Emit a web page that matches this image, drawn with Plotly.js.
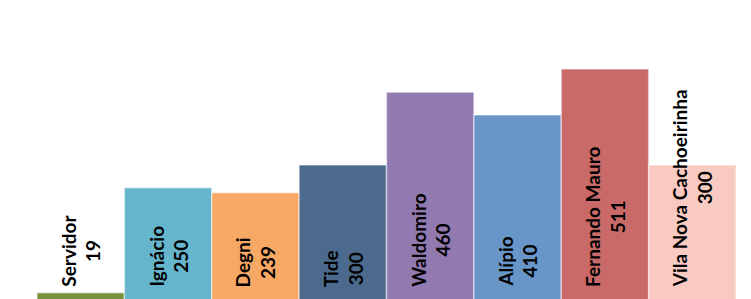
<!DOCTYPE html>
<html>
<head>
<meta charset="utf-8">
<script src="https://cdn.plot.ly/plotly-3.0.1.min.js"></script>
<style>html,body{margin:0;padding:0;background:#fff;}#chart{width:751px;height:299px;}</style>
</head>
<body>
<div id="chart"></div>
<script>
const categories = ["Servidor", "Ignácio", "Degni", "Tide", "Waldomiro", "Alípio", "Fernando Mauro", "Vila Nova Cachoeirinha"];
const values = [19, 250, 239, 300, 460, 410, 511, 300];
const colors = ["#76923C", "#65B6CD", "#F8A865", "#4B6A8E", "#927AB0", "#6996C9", "#C96A68", "#F9CAC2"];

const trace = {
  type: "bar",
  x: categories,
  y: values,
  marker: { color: colors, line: { color: "rgba(255,255,255,0.45)", width: 1.5 } },
  hoverinfo: "none"
};

const annotations = categories.map((c, i) => ({
  x: c, y: 0, xref: "x", yref: "paper",
  text: "<b>" + c + "<br>" + values[i] + "</b>",
  textangle: -90,
  showarrow: false,
  xanchor: "center", yanchor: "bottom",
  yshift: 10,
  align: "center",
  font: { family: "Lato, 'Open Sans', sans-serif", size: 19, color: "#000" }
}));

const layout = {
  width: 751, height: 299,
  margin: { l: 37, r: 15, t: 0, b: 0, pad: 0 },
  paper_bgcolor: "#fff", plot_bgcolor: "#fff",
  bargap: 0,
  showlegend: false,
  xaxis: { type: "category", range: [-0.5, 7.5], visible: false },
  yaxis: { range: [5.5, 662.6], visible: false },
  annotations: annotations
};

Plotly.newPlot("chart", [trace], layout, { displayModeBar: false, staticPlot: true });
</script>
</body>
</html>
